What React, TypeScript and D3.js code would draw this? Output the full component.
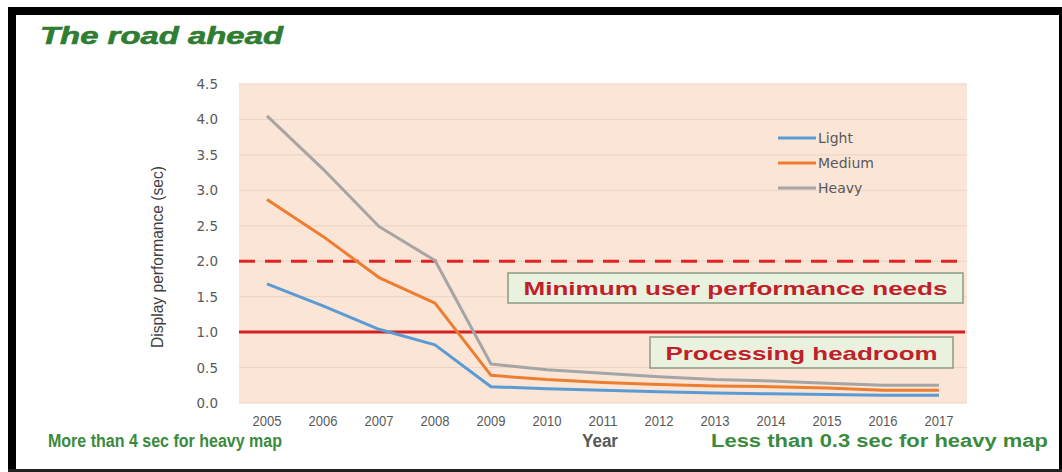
import React, { useEffect, useRef } from "react";
import * as d3 from "d3";

const years = ["2005", "2006", "2007", "2008", "2009", "2010", "2011", "2012", "2013", "2014", "2015", "2016", "2017"];
const light = [1.68, 1.37, 1.04, 0.82, 0.23, 0.2, 0.18, 0.16, 0.14, 0.13, 0.12, 0.11, 0.11];
const medium = [2.87, 2.35, 1.77, 1.41, 0.39, 0.33, 0.29, 0.26, 0.24, 0.23, 0.21, 0.18, 0.18];
const heavy = [4.05, 3.3, 2.49, 2.01, 0.55, 0.47, 0.42, 0.37, 0.33, 0.31, 0.28, 0.25, 0.25];
const seriesNames = ["Light", "Medium", "Heavy"];
const seriesColors = ["#5b9bd5", "#ed7d31", "#a5a5a5"];
const yTicks = [0, 0.5, 1, 1.5, 2, 2.5, 3, 3.5, 4, 4.5];
const needLevel = 2.0;
const headroomLevel = 1.0;

const W = 1062;
const H = 472;

export default function App() {
  const ref = useRef<SVGSVGElement>(null);

  useEffect(() => {
    document.body.style.margin = "0";
    const svg = d3.select(ref.current);
    svg.selectAll("*").remove();

    // frame
    svg.append("rect").attr("width", W).attr("height", H).attr("fill", "#fff");
    svg.append("rect").attr("x", 8).attr("y", 7).attr("width", 8).attr("height", H - 7).attr("fill", "#000");
    svg.append("rect").attr("x", 8).attr("y", 7).attr("width", W - 8).attr("height", 8).attr("fill", "#000");
    svg.append("rect").attr("x", W - 3).attr("y", 7).attr("width", 3).attr("height", H - 7).attr("fill", "#000");
    svg.append("rect").attr("x", 8).attr("y", H - 3).attr("width", W - 8).attr("height", 3).attr("fill", "#222");

    svg.append("text")
      .attr("x", 40).attr("y", 44)
      .attr("font-family", "Liberation Sans, Arial, sans-serif")
      .attr("font-weight", "bold").attr("font-style", "italic")
      .attr("font-size", 23).attr("fill", "#2e7d32")
      .attr("textLength", 243).attr("lengthAdjust", "spacingAndGlyphs")
      .attr("stroke", "#2e7d32").attr("stroke-width", 0.6)
      .text("The road ahead");

    const left = 239, right = 967, top = 84, bottom = 403;
    const x = d3.scaleBand().domain(years).range([left, right]);
    const y = d3.scaleLinear().domain([0, 4.5]).range([bottom, top]);

    svg.append("rect")
      .attr("x", left).attr("y", top).attr("width", right - left).attr("height", bottom - top)
      .attr("fill", "#fbe5d6");

    svg.append("g").selectAll("line").data(yTicks).join("line")
      .attr("x1", left).attr("x2", right)
      .attr("y1", d => y(d)).attr("y2", d => y(d))
      .attr("stroke", "#ecd3c3").attr("stroke-width", 1);

    svg.append("g").selectAll("text").data(yTicks).join("text")
      .attr("x", 218).attr("y", d => y(d) + 5)
      .attr("text-anchor", "end")
      .attr("font-family", "DejaVu Sans, Verdana, sans-serif")
      .attr("font-size", 13.5).attr("fill", "#595959")
      .text(d => d3.format(".1f")(d));

    svg.append("g").selectAll("text").data(years).join("text")
      .attr("x", d => (x(d) as number) + x.bandwidth() / 2).attr("y", 426)
      .attr("text-anchor", "middle")
      .attr("font-family", "Liberation Sans, Arial, sans-serif")
      .attr("font-size", 15).attr("fill", "#595959")
      .attr("textLength", 29).attr("lengthAdjust", "spacingAndGlyphs")
      .text(d => d);

    svg.append("text")
      .attr("transform", `translate(163,257) rotate(-90)`)
      .attr("text-anchor", "middle")
      .attr("font-family", "Liberation Sans, Arial, sans-serif")
      .attr("font-size", 17).attr("fill", "#404040")
      .attr("textLength", 182).attr("lengthAdjust", "spacingAndGlyphs")
      .text("Display performance (sec)");

    // reference lines
    svg.append("line")
      .attr("x1", left).attr("x2", right - 2)
      .attr("y1", y(needLevel)).attr("y2", y(needLevel))
      .attr("stroke", "#e02424").attr("stroke-width", 3).attr("stroke-dasharray", "16 10");
    svg.append("line")
      .attr("x1", left).attr("x2", right - 2)
      .attr("y1", y(headroomLevel)).attr("y2", y(headroomLevel))
      .attr("stroke", "#d42020").attr("stroke-width", 3);

    // series
    const line = d3.line<number>()
      .x((_, i) => (x(years[i]) as number) + x.bandwidth() / 2)
      .y(d => y(d));
    [light, medium, heavy].forEach((s, k) => {
      svg.append("path").datum(s)
        .attr("d", line)
        .attr("fill", "none")
        .attr("stroke", seriesColors[k])
        .attr("stroke-width", 3)
        .attr("stroke-linejoin", "round");
    });

    // legend
    seriesNames.forEach((n, k) => {
      const ly = 138 + k * 25;
      svg.append("line")
        .attr("x1", 778).attr("x2", 816).attr("y1", ly).attr("y2", ly)
        .attr("stroke", seriesColors[k]).attr("stroke-width", 3);
      svg.append("text")
        .attr("x", 818).attr("y", ly + 5)
        .attr("font-family", "DejaVu Sans, Verdana, sans-serif")
        .attr("font-size", 14).attr("fill", "#595959")
        .text(n);
    });

    // annotation boxes
    const boxes = [
      { label: "Minimum user performance needs", x0: 508, x1: 963, y0: 273, y1: 303, tw: 424 },
      { label: "Processing headroom", x0: 650, x1: 953, y0: 337, y1: 368, tw: 272 },
    ];
    boxes.forEach(b => {
      svg.append("rect")
        .attr("x", b.x0).attr("y", b.y0).attr("width", b.x1 - b.x0).attr("height", b.y1 - b.y0)
        .attr("fill", "#eaf1de").attr("stroke", "#8c9a82").attr("stroke-width", 1.5);
      svg.append("text")
        .attr("x", (b.x0 + b.x1) / 2).attr("y", (b.y0 + b.y1) / 2 + 7)
        .attr("text-anchor", "middle")
        .attr("font-family", "Liberation Sans, Arial, sans-serif")
        .attr("font-weight", "bold").attr("font-size", 19).attr("fill", "#c0202a")
        .attr("textLength", b.tw).attr("lengthAdjust", "spacingAndGlyphs")
        .text(b.label);
    });

    // bottom captions
    const cap = (tx: number, txt: string, color: string, tl: number) =>
      svg.append("text")
        .attr("x", tx).attr("y", 447)
        .attr("font-family", "Liberation Sans, Arial, sans-serif")
        .attr("font-weight", "bold").attr("font-size", 18).attr("fill", color)
        .attr("textLength", tl).attr("lengthAdjust", "spacingAndGlyphs")
        .text(txt);
    cap(48, "More than 4 sec for heavy map", "#3b8a3e", 234);
    cap(582, "Year", "#595959", 36);
    cap(711, "Less than 0.3 sec for heavy map", "#3b8a3e", 337);
  }, []);

  return <svg ref={ref} width={W} height={H} style={{ display: "block" }} />;
}
